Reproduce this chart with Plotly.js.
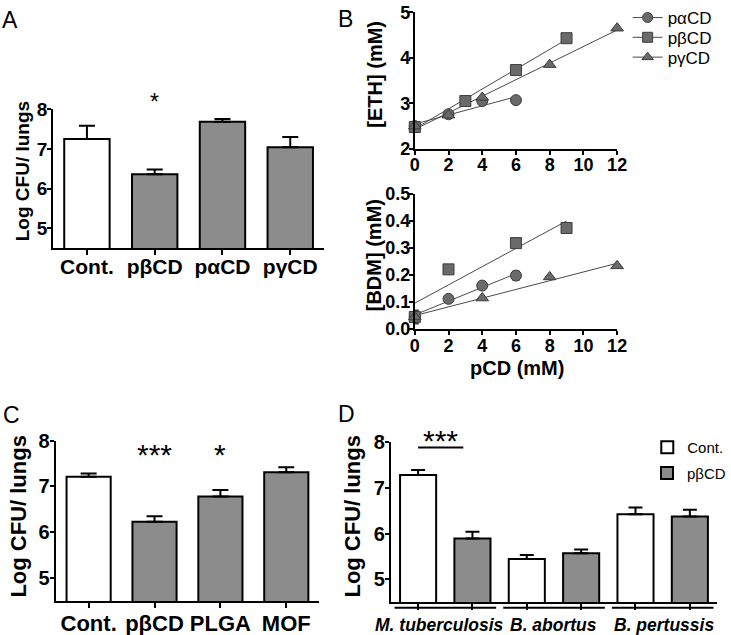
<!DOCTYPE html>
<html>
<head>
<meta charset="utf-8">
<script src="https://cdn.plot.ly/plotly-3.0.1.min.js"></script>
<style>html,body{margin:0;padding:0;background:#fff;}#chart{width:731px;height:635px;}</style>
</head>
<body>
<div id="chart"></div>
<script>
// ---------- Panel A ----------
var catsA = ['Cont.', 'pβCD', 'pαCD', 'pγCD'];
var valsA = [7.25, 6.36, 7.68, 7.04];
var errA  = [0.33, 0.12, 0.07, 0.26];

// ---------- Panel B ----------
var alphaX = [0, 2, 4, 6];
var alphaETH = [2.50, 2.76, 3.05, 3.07];
var alphaBDM = [0.045, 0.112, 0.161, 0.198];
var alphaBDMerr = [0, 0, 0, 0.015];

var betaXeth = [0, 3, 6, 9];
var betaETH = [2.48, 3.05, 3.73, 4.43];
var betaXbdm = [0, 2, 6, 9];
var betaBDM = [0.045, 0.221, 0.318, 0.374];
var betaBDMerr = [0.025, 0, 0, 0.008];

var gammaXeth = [0, 2, 4, 8, 12];
var gammaETH = [2.50, 2.74, 3.13, 3.85, 4.65];
var gammaXbdm = [0, 4, 8, 12];
var gammaBDM = [0.045, 0.115, 0.193, 0.234];

var seriesNames = ['pαCD', 'pβCD', 'pγCD'];

// ---------- Panel C ----------
var catsC = ['Cont.', 'pβCD', 'PLGA', 'MOF'];
var valsC = [7.21, 6.23, 6.78, 7.31];
var errC  = [0.07, 0.12, 0.14, 0.11];

// ---------- Panel D ----------
var groupsD = ['M. tuberculosis', 'B. abortus', 'B. pertussis'];
var contD = [7.28, 5.44, 6.42];
var contDerr = [0.11, 0.09, 0.15];
var pbD = [5.89, 5.57, 6.37];
var pbDerr = [0.15, 0.08, 0.15];
var legendD = ['Cont.', 'pβCD'];

// ---------- styles ----------
var FONT = 'Liberation Sans, Arial, Helvetica, sans-serif';
var WHITE = '#ffffff', GRAY = '#8c8c8c';
var MK = '#6a6a6a', MKL = '#3c3c3c', FITC = '#4a4a4a';

function fit(xs, ys) {
  var n = xs.length, mx = 0, my = 0;
  for (var i = 0; i < n; i++) { mx += xs[i]; my += ys[i]; }
  mx /= n; my /= n;
  var sxy = 0, sxx = 0;
  for (var j = 0; j < n; j++) { sxy += (xs[j]-mx)*(ys[j]-my); sxx += (xs[j]-mx)*(xs[j]-mx); }
  var b = sxy / sxx, a = my - b*mx;
  var x0 = Math.min.apply(null, xs), x1 = Math.max.apply(null, xs);
  return {x: [x0, x1], y: [a + b*x0, a + b*x1]};
}
function zeros(a){ return a.map(function(){return 0;}); }

var traces = [];
// A bars
traces.push({
  type: 'bar', x: catsA, y: valsA, xaxis: 'x', yaxis: 'y', showlegend: false,
  marker: {color: catsA.map(function(c,i){return i===0?WHITE:GRAY;}), line: {color: '#000', width: 2}},
  error_y: {type: 'data', symmetric: false, array: errA, arrayminus: zeros(errA), color: '#000', thickness: 2, width: 8}
});
// C bars
traces.push({
  type: 'bar', x: catsC, y: valsC, xaxis: 'x4', yaxis: 'y4', showlegend: false,
  marker: {color: catsC.map(function(c,i){return i===0?WHITE:GRAY;}), line: {color: '#000', width: 2}},
  error_y: {type: 'data', symmetric: false, array: errC, arrayminus: zeros(errC), color: '#000', thickness: 2, width: 8}
});
// D bars
var gIdx = groupsD.map(function(g,i){return i;});
traces.push({
  type: 'bar', name: legendD[0], x: gIdx, y: contD, xaxis: 'x5', yaxis: 'y5', legend: 'legend2',
  width: 0.332, offset: -0.416,
  marker: {color: WHITE, line: {color: '#000', width: 2}},
  error_y: {type: 'data', symmetric: false, array: contDerr, arrayminus: zeros(contDerr), color: '#000', thickness: 2, width: 7}
});
traces.push({
  type: 'bar', name: legendD[1], x: gIdx, y: pbD, xaxis: 'x5', yaxis: 'y5', legend: 'legend5',
  width: 0.332, offset: 0.084,
  marker: {color: GRAY, line: {color: '#000', width: 2}},
  error_y: {type: 'data', symmetric: false, array: pbDerr, arrayminus: zeros(pbDerr), color: '#000', thickness: 2, width: 7}
});

// B scatter
var symbols = ['circle', 'square', 'triangle-up'];
var ethSets = [[alphaX, alphaETH], [betaXeth, betaETH], [gammaXeth, gammaETH]];
var bdmSets = [[alphaX, alphaBDM, alphaBDMerr], [betaXbdm, betaBDM, betaBDMerr], [gammaXbdm, gammaBDM, zeros(gammaBDM)]];
for (var s = 0; s < 3; s++) {
  var fe = fit(ethSets[s][0], ethSets[s][1]);
  traces.push({type: 'scatter', mode: 'lines', x: fe.x, y: fe.y, xaxis: 'x2', yaxis: 'y2', showlegend: false,
    line: {color: FITC, width: 1}, hoverinfo: 'skip'});
  var fb = fit(bdmSets[s][0], bdmSets[s][1]);
  traces.push({type: 'scatter', mode: 'lines', x: fb.x, y: fb.y, xaxis: 'x3', yaxis: 'y3', showlegend: false,
    line: {color: FITC, width: 1}, hoverinfo: 'skip'});
}
for (var s2 = 0; s2 < 3; s2++) {
  var mk = {symbol: symbols[s2], size: 11, color: MK, line: {color: MKL, width: 1}};
  traces.push({type: 'scatter', mode: 'markers', x: ethSets[s2][0], y: ethSets[s2][1], xaxis: 'x2', yaxis: 'y2',
    showlegend: false, cliponaxis: false, marker: mk});
  traces.push({type: 'scatter', mode: 'markers', x: bdmSets[s2][0], y: bdmSets[s2][1], xaxis: 'x3', yaxis: 'y3',
    showlegend: false, cliponaxis: false, marker: mk,
    error_y: {type: 'data', array: bdmSets[s2][2], color: MKL, thickness: 1.5, width: 4}});
}
// legend entries for B (one legend per row for exact spacing)
var bLegends = ['legend', 'legend3', 'legend4'];
for (var s3 = 0; s3 < 3; s3++) {
  traces.push({type: 'scatter', mode: 'lines+markers', name: seriesNames[s3], x: [null], y: [null],
    xaxis: 'x2', yaxis: 'y2', legend: bLegends[s3],
    line: {color: FITC, width: 1}, marker: {symbol: symbols[s3], size: 10, color: MK, line: {color: MKL, width: 1}}});
}

function px(x){ return x/731; }
function py(y){ return 1 - y/635; }

var axLine = {showline: true, linecolor: '#000', linewidth: 2, ticks: 'outside', ticklen: 5, tickwidth: 2,
  tickcolor: '#000', showgrid: false, zeroline: false, automargin: false, fixedrange: true};
function ax(o){ var r = {}; for (var k in axLine) r[k] = axLine[k]; for (var k2 in o) r[k2] = o[k2]; return r; }
var tickBold = function(sz){ return {family: FONT, size: sz, color: '#000', weight: 700}; };

function legendAt(xp, yp, size){
  return {x: px(xp), y: py(yp), xanchor: 'left', yanchor: 'middle', orientation: 'v',
    font: {family: FONT, size: size, color: '#000'}, bgcolor: 'rgba(0,0,0,0)', borderwidth: 0, itemwidth: 30};
}

var layout = {
  width: 731, height: 635,
  margin: {l: 0, r: 0, t: 0, b: 0},
  paper_bgcolor: '#fff', plot_bgcolor: 'rgba(0,0,0,0)',
  barmode: 'group', bargap: 0.33,
  font: {family: FONT, color: '#000'},
  // Panel A
  xaxis: ax({domain: [px(54), px(330)], anchor: 'y', type: 'category', tickfont: tickBold(21), ticklabelstandoff: -6}),
  yaxis: ax({domain: [py(245), py(105)], anchor: 'x', range: [4.5, 8], tickvals: [5,6,7,8], tickfont: tickBold(19), ticklen: 4, ticklabelstandoff: -4}),
  // Panel B top
  xaxis2: ax({domain: [px(422.3), px(628.3)], anchor: 'y2', range: [0, 12], dtick: 2, tick0: 0, tickfont: tickBold(18), ticklen: 4, ticklabelstandoff: -5}),
  yaxis2: ax({domain: [py(145), py(7.3)], anchor: 'x2', range: [2, 5], dtick: 1, tick0: 2, tickfont: tickBold(18), ticklen: 4, ticklabelstandoff: -5}),
  // Panel B bottom
  xaxis3: ax({domain: [px(422.3), px(628.3)], anchor: 'y3', range: [0, 12], dtick: 2, tick0: 0, tickfont: tickBold(18), ticklen: 4, ticklabelstandoff: -5}),
  yaxis3: ax({domain: [py(326.7), py(190.4)], anchor: 'x3', range: [0, 0.5], dtick: 0.1, tick0: 0, tickformat: '.1f', tickfont: tickBold(18), ticklen: 4, ticklabelstandoff: -5}),
  // Panel C
  xaxis4: ax({domain: [px(56.7), px(325)], anchor: 'y4', type: 'category', tickfont: tickBold(22), ticklabelstandoff: -3}),
  yaxis4: ax({domain: [py(600.7), py(439)], anchor: 'x4', range: [4.5, 8], tickvals: [5,6,7,8], tickfont: tickBold(20), ticklen: 4, ticklabelstandoff: -4}),
  // Panel D
  xaxis5: ax({domain: [px(398), px(730)], anchor: 'y5', range: [-0.5, 2.5],
    tickvals: gIdx.map(function(i){return i-0.25;}).concat(gIdx.map(function(i){return i+0.25;})),
    showticklabels: false, ticklen: 6}),
  yaxis5: ax({domain: [py(601.7), py(440.7)], anchor: 'x5', range: [4.5, 8], tickvals: [5,6,7,8], tickfont: tickBold(20), ticklen: 4, ticklabelstandoff: -4}),
  legend: legendAt(639, 13, 17),
  legend3: legendAt(639, 33, 17),
  legend4: legendAt(639, 53, 17),
  legend2: legendAt(659, 446, 15),
  legend5: legendAt(659, 472, 15),
  shapes: [],
  annotations: []
};

// D: brackets under each group
gIdx.forEach(function(i){
  layout.shapes.push({type: 'line', xref: 'x5 domain', yref: 'paper',
    x0: (i + 0.5 - 0.467)/3, x1: (i + 0.5 + 0.468)/3, y0: py(607.5), y1: py(607.5),
    line: {color: '#000', width: 2}});
});
// D: significance line
layout.shapes.push({type: 'line', xref: 'x5', yref: 'y5', x0: -0.25, x1: 0.166, y0: 7.885, y1: 7.885,
  line: {color: '#000', width: 2}});

function ann(text, x, y, size, extra){
  var a = {text: text, x: x, y: y, xref: 'paper', yref: 'paper', showarrow: false,
    xanchor: 'center', yanchor: 'middle', font: {family: FONT, size: size, color: '#000'}};
  for (var k in (extra||{})) a[k] = extra[k];
  return a;
}
function boldFont(sz){ return {family: FONT, size: sz, color: '#000', weight: 700}; }
// Panel letters
layout.annotations.push(ann('A', px(10), py(15), 23));
layout.annotations.push(ann('B', px(351.5), py(14), 23));
layout.annotations.push(ann('C', px(12), py(413), 23));
layout.annotations.push(ann('D', px(353), py(412), 23));
// Axis titles
layout.annotations.push(ann('Log CFU/ lungs', px(23), py(168), 19, {textangle: -90, font: boldFont(19)}));
layout.annotations.push(ann('[ETH] (mM)', px(382), py(70), 20, {textangle: -90, font: boldFont(20)}));
layout.annotations.push(ann('[BDM] (mM)', px(381), py(252), 20, {textangle: -90, font: boldFont(20)}));
layout.annotations.push(ann('pCD (mM)', px(526), py(366), 20, {font: boldFont(20)}));
layout.annotations.push(ann('Log CFU/ lungs', px(19), py(515), 22, {textangle: -90, font: boldFont(22)}));
layout.annotations.push(ann('Log CFU/ lungs', px(359), py(515), 22, {textangle: -90, font: boldFont(22)}));
// Significance stars
function star(text, xref, x, ycenter, size){
  return {text: text, xref: xref, yref: 'paper', x: x, y: py(ycenter), xanchor: 'center', yanchor: 'middle',
    showarrow: false, font: {family: FONT, size: size, color: '#000'}};
}
layout.annotations.push(star('*', 'x', catsA[1], 98, 23));
layout.annotations.push(star('***', 'x4', catsC[1], 453, 30));
layout.annotations.push(star('*', 'x4', catsC[2], 453, 30));
layout.annotations.push(star('***', 'x5', -0.04, 439, 30));
// D group labels
var labelShift = [-6, 0, 1];
gIdx.forEach(function(i){
  layout.annotations.push({text: groupsD[i], xref: 'x5', yref: 'paper', x: i, y: py(625), xshift: labelShift[i],
    xanchor: 'center', yanchor: 'middle', showarrow: false,
    font: {family: FONT, size: 17.5, color: '#000', weight: 700, style: 'italic'}});
});

Plotly.newPlot('chart', traces, layout, {displayModeBar: false, staticPlot: true});
</script>
</body>
</html>
